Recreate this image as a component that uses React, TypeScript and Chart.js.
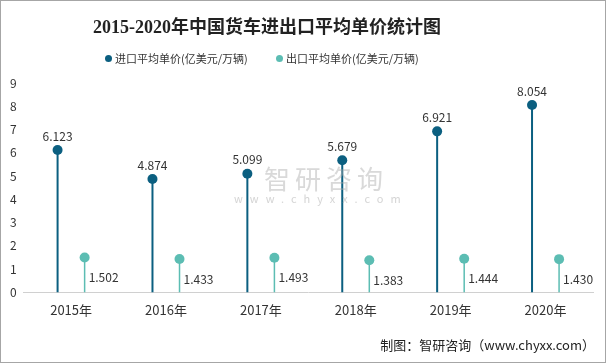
import React, { useEffect, useRef } from "react";
import { Chart, registerables } from "chart.js";

Chart.register(...registerables);

const categories = ["2015年", "2016年", "2017年", "2018年", "2019年", "2020年"];
const importValues = [6.123, 4.874, 5.099, 5.679, 6.921, 8.054];
const exportValues = [1.502, 1.433, 1.493, 1.383, 1.444, 1.43];
const seriesNames = ["进口平均单价(亿美元/万辆)", "出口平均单价(亿美元/万辆)"];
const titleText = "2015-2020年中国货车进出口平均单价统计图";
const yMin = 0;
const yMax = 9;
const yStep = 1;

const IMPORT_COLOR = "#0b5f80";
const EXPORT_COLOR = "#5cbdb3";
const FONT = "'Microsoft YaHei', 'Noto Sans CJK SC', 'DejaVu Sans', sans-serif";

const lollipopPlugin = {
  id: "lollipop",
  afterDatasetsDraw(chart: any) {
    const ctx = chart.ctx;
    chart.data.datasets.forEach((ds: any, di: number) => {
      const meta = chart.getDatasetMeta(di);
      meta.data.forEach((bar: any, i: number) => {
        const x = bar.x;
        const y = bar.y;
        ctx.save();
        ctx.beginPath();
        ctx.arc(x, y, 5, 0, Math.PI * 2);
        ctx.fillStyle = ds.backgroundColor;
        ctx.fill();
        ctx.font = `12px ${FONT}`;
        ctx.fillStyle = "#333333";
        ctx.textBaseline = "middle";
        const v = ds.data[i];
        const txt = v.toFixed(3);
        if (di === 0) {
          ctx.textAlign = "center";
          ctx.fillText(txt, x, y - 14);
        } else {
          ctx.textAlign = "left";
          ctx.fillText(txt, x + 4, y + 20);
        }
        ctx.restore();
      });
    });
  },
};

export default function App() {
  const ref = useRef<HTMLCanvasElement | null>(null);

  useEffect(() => {
    document.body.style.margin = "0";
    const chart = new Chart(ref.current as HTMLCanvasElement, {
      type: "bar",
      data: {
        labels: categories,
        datasets: [
          {
            label: seriesNames[0],
            data: importValues,
            backgroundColor: IMPORT_COLOR,
            maxBarThickness: 2,
            categoryPercentage: 0.57,
            barPercentage: 1,
          },
          {
            label: seriesNames[1],
            data: exportValues,
            backgroundColor: EXPORT_COLOR,
            maxBarThickness: 1.5,
            categoryPercentage: 0.57,
            barPercentage: 1,
          },
        ],
      },
      options: {
        animation: false,
        responsive: false,
        maintainAspectRatio: false,
        layout: { padding: { left: 2, right: 12, top: 82, bottom: 34 } },
        plugins: {
          title: { display: false },
          legend: { display: false },
          tooltip: { enabled: false },
        },
        scales: {
          x: {
            grid: { display: false, drawTicks: false },
            border: { display: true, color: "#d0d0d0", width: 1 },
            ticks: { color: "#333333", font: { family: FONT, size: 13 }, padding: 10 },
          },
          y: {
            min: yMin,
            max: yMax,
            grid: { display: false, drawTicks: false },
            border: { display: false },
            ticks: { stepSize: yStep, color: "#333333", font: { family: FONT, size: 12 }, padding: 7 },
          },
        },
      },
      plugins: [lollipopPlugin],
    });
    return () => chart.destroy();
  }, []);

  const legendItem = (color: string, text: string, left: number) => (
    <div
      style={{
        position: "absolute",
        left,
        top: 49,
        display: "flex",
        alignItems: "center",
        fontFamily: FONT,
        fontSize: 11,
        color: "#333333",
        whiteSpace: "nowrap",
      }}
    >
      <span
        style={{
          display: "inline-block",
          width: 7,
          height: 7,
          borderRadius: "50%",
          background: color,
          marginRight: 3,
        }}
      />
      {text}
    </div>
  );

  return (
    <div
      style={{
        position: "absolute",
        left: 0,
        top: 0,
        width: 606,
        height: 363,
        boxSizing: "border-box",
        border: "1px solid #a6a6a6",
        background: "#ffffff",
        overflow: "hidden",
      }}
    >
      <canvas ref={ref} width={604} height={361} style={{ display: "block" }} />
      <div
        style={{
          position: "absolute",
          left: 92,
          top: 11,
          fontFamily: "'Liberation Serif', 'Noto Sans CJK SC', serif",
          fontWeight: "bold",
          fontSize: 18,
          color: "#222222",
          whiteSpace: "nowrap",
        }}
      >
        {titleText}
      </div>
      {legendItem(IMPORT_COLOR, seriesNames[0], 104)}
      {legendItem(EXPORT_COLOR, seriesNames[1], 275)}
      <div
        style={{
          position: "absolute",
          left: 263,
          top: 158,
          fontFamily: FONT,
          fontSize: 26,
          color: "rgba(170,170,170,0.45)",
          letterSpacing: 5,
          pointerEvents: "none",
        }}
      >
        智研咨询
      </div>
      <div
        style={{
          position: "absolute",
          left: 233,
          top: 189,
          fontFamily: FONT,
          fontSize: 11,
          color: "rgba(170,170,170,0.5)",
          letterSpacing: 7,
          pointerEvents: "none",
        }}
      >
        www.chyxx.com
      </div>
      <div
        style={{
          position: "absolute",
          right: 10,
          top: 334,
          fontFamily: "'Noto Sans CJK SC', sans-serif",
          fontSize: 13,
          color: "#222222",
        }}
      >
        制图：智研咨询（www.chyxx.com）
      </div>
    </div>
  );
}
